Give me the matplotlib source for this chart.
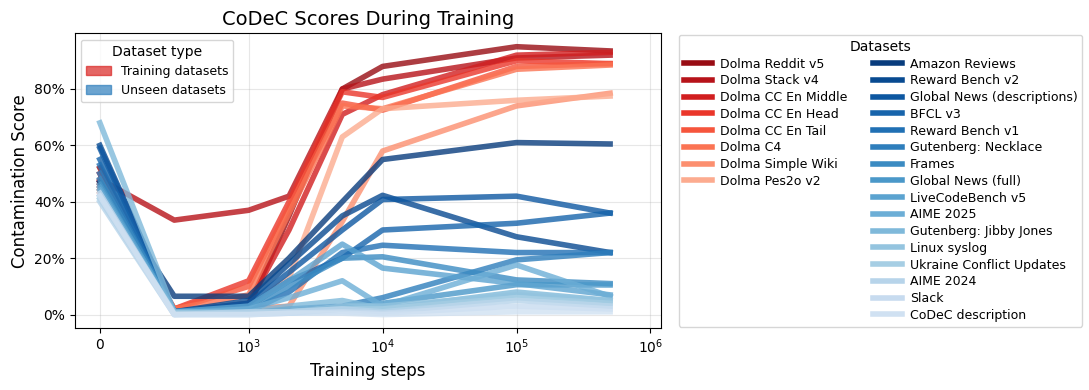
import numpy as np
import matplotlib
matplotlib.use("Agg")
import matplotlib.pyplot as plt
from matplotlib.lines import Line2D
from matplotlib.patches import Patch
from matplotlib.ticker import PercentFormatter, NullLocator

# training steps (x) and contamination scores in percent
steps = [0, 500, 1000, 2000, 5000, 10000, 100000, 500000]

train_names = [
    "Dolma Reddit v5", "Dolma Stack v4", "Dolma CC En Middle", "Dolma CC En Head",
    "Dolma CC En Tail", "Dolma C4", "Dolma Simple Wiki", "Dolma Pes2o v2",
]
train_scores = [
    [52, 1, 3, 35, 80, 88, 95, 93.5],
    [48, 33.5, 37, 42, 80, 83.5, 91, 92],
    [50, 1, 4, 30, 71, 78, 92, 93],
    [47, 2, 12, 40, 79, 77, 90, 89],
    [46, 2, 10, 38, 75, 72.5, 88, 89],
    [45, 2, 7, 36, 74, 73, 87, 88.5],
    [44, 1, 2, 3, 33, 58, 74, 78.5],
    [43, 1, 2.5, 13, 63, 73, 76, 77.5],
]

unseen_names = [
    "Amazon Reviews", "Reward Bench v2", "Global News (descriptions)", "BFCL v3",
    "Reward Bench v1", "Gutenberg: Necklace", "Frames", "Global News (full)",
    "LiveCodeBench v5", "AIME 2025", "Gutenberg: Jibby Jones", "Linux syslog",
    "Ukraine Conflict Updates", "AIME 2024", "Slack", "CoDeC description",
]
unseen_scores = [
    [47, 6.5, 6.5, 20, 40, 55, 61, 60.5],
    [60, 1, 5, 18, 35, 42.3, 27.6, 22],
    [59, 1, 4, 15, 30, 40.8, 42, 36],
    [55, 1, 3, 12, 20, 30, 32.4, 36],
    [53, 0.5, 1, 8, 22, 24.6, 22, 22],
    [50, 0.5, 0.5, 2, 3, 6, 19.4, 22],
    [48, 1, 2, 10, 20, 20.5, 12.3, 11],
    [46, 0.5, 1, 0.5, 2, 4, 10.6, 10.5],
    [45, 1, 3, 12, 25, 16.5, 11, 7],
    [44, 0.5, 2, 6, 12, 3, 17.6, 6.5],
    [68, 1, 1, 3, 5, 2, 8, 5],
    [42, 0.5, 0.5, 1, 3, 3, 7, 5],
    [41, 0.5, 0.5, 1, 2, 2, 6, 4],
    [40, 0, 1, 1, 2, 1, 5, 3],
    [43, 0, 0, 0.5, 1, 0.5, 3, 2],
    [42, 0, 0, 0.5, 0.5, 0, 1, 1],
]

reds = plt.cm.Reds(np.linspace(0.9, 0.3, len(train_names)))
blues = plt.cm.Blues(np.linspace(0.95, 0.2, len(unseen_names)))

fig, ax = plt.subplots(figsize=(10.89, 3.9), dpi=100)
fig.subplots_adjust(left=0.0685, right=0.607, bottom=0.159, top=0.9146)

train_handles, unseen_handles = [], []
for name, vals, c in zip(train_names, train_scores, reds):
    ax.plot(steps, vals, color=c, lw=4, alpha=0.8)
    train_handles.append(Line2D([], [], color=c, lw=4, label=name))
for name, vals, c in zip(unseen_names, unseen_scores, blues):
    ax.plot(steps, vals, color=c, lw=4, alpha=0.8)
    unseen_handles.append(Line2D([], [], color=c, lw=4, label=name))

# pad first column so training sets sit alone in column 1
n_pad = len(unseen_handles) - len(train_handles)
blank = [Line2D([], [], color="none", label=" ") for _ in range(n_pad)]
handles = train_handles + blank + unseen_handles

ax.set_xscale("symlog", linthresh=1000)
ax.set_xlim(-170, 1.2e6)
ax.set_xticks([0, 1e3, 1e4, 1e5, 1e6])
ax.xaxis.set_minor_locator(NullLocator())
ax.yaxis.set_major_formatter(PercentFormatter(100, decimals=0))
ax.set_yticks([0, 20, 40, 60, 80])
ax.grid(True, alpha=0.3)
ax.set_xlabel("Training steps", fontsize=12)
ax.set_ylabel("Contamination Score", fontsize=12)
ax.set_title("CoDeC Scores During Training", fontsize=14)

type_handles = [
    Patch(color=plt.cm.Reds(0.7), alpha=0.7, label="Training datasets"),
    Patch(color=plt.cm.Blues(0.7), alpha=0.7, label="Unseen datasets"),
]
leg1 = ax.legend(handles=type_handles, title="Dataset type", loc="upper left",
                 fontsize=9, title_fontsize=10)
ax.add_artist(leg1)

ax.legend(handles=handles, title="Datasets", loc="upper left",
          bbox_to_anchor=(1.03, 0.995), borderaxespad=0, ncol=2,
          fontsize=9, title_fontsize=10, labelspacing=0.3,
          handlelength=2.3, handletextpad=0.65)

fig.savefig("out.png", dpi=100)
